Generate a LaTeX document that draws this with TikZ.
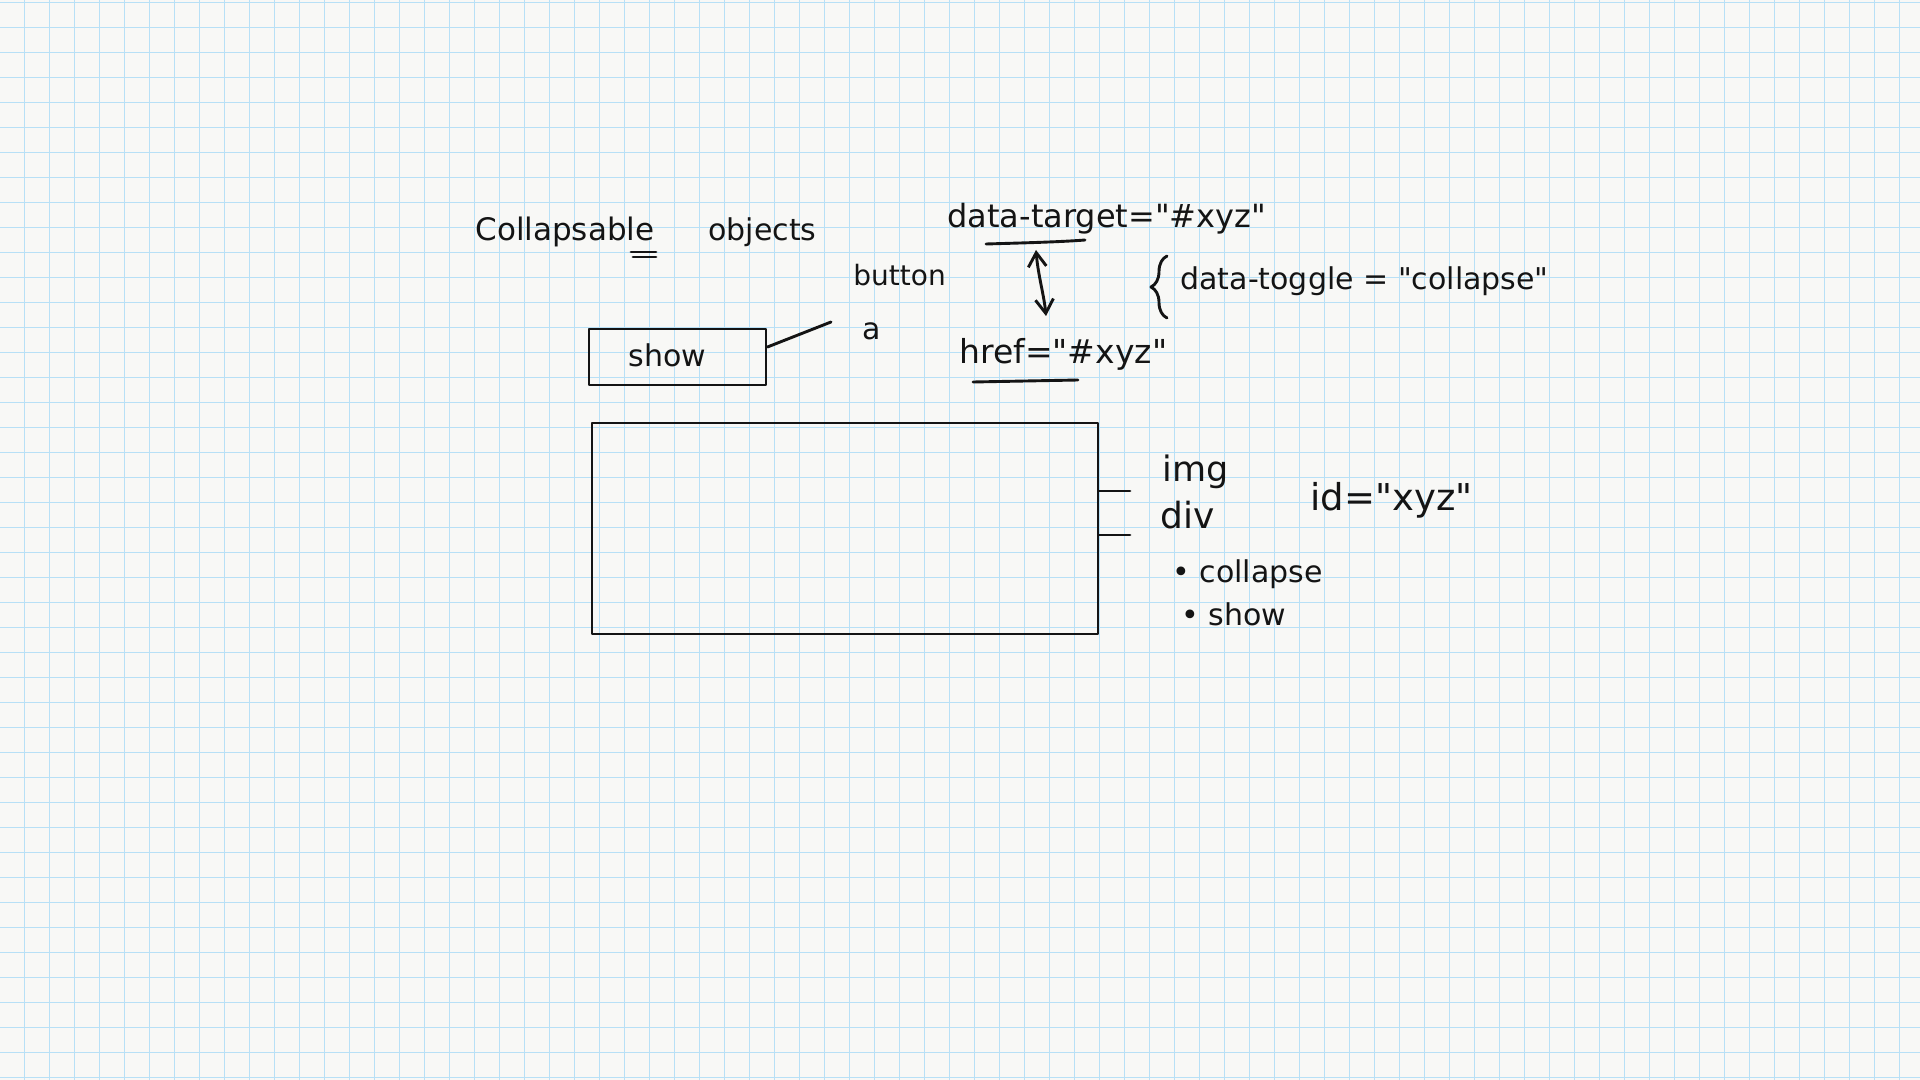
\documentclass[tikz,border=0pt]{standalone}
\usepackage{fontspec}
\setmainfont{DejaVu Sans}[Ligatures=TeXOff]
\usetikzlibrary{arrows.meta,decorations.pathreplacing}
\definecolor{paper}{RGB}{248,248,246}
\definecolor{gridblue}{RGB}{184,224,246}
\definecolor{ink}{RGB}{20,20,20}
\tikzset{
  pen/.style={draw=ink, line width=1.45pt, line cap=round, line join=round},
  hand/.style={font=\fontsize{15}{18}\selectfont, text=ink, inner sep=0pt, anchor=base west},
  boxshape/.style={pen, rectangle, inner sep=0pt},
  barbs/.style={{Straight Barb[length=7pt,width=9pt]}-{Straight Barb[length=7pt,width=9pt]}},
  gridline/.style={draw=gridblue, line width=0.8pt},
}
\begin{document}
\begin{tikzpicture}[x=0.5pt,y=-0.5pt]
\fill[paper] (0,0) rectangle (1920,1080);
\useasboundingbox (0,0) rectangle (1920,1080);
\foreach \i in {0,...,76} \draw[gridline] ({24.3+25*\i},0) -- ({24.3+25*\i},1080);
\foreach \j in {0,...,43} \draw[gridline] (0,{2.5+25*\j}) -- (1920,{2.5+25*\j});

% title
\node[hand, font=\fontsize{15.5}{18}\selectfont] (title1) at (475,241) {Collapsable};
\node[hand] (title2) at (708,241) {objects};
\draw[pen] (631,252) -- (656,252);
\draw[pen] (633,257) -- (656,257);

% button / a
\node[hand, font=\fontsize{14}{16}\selectfont] (button) at (853,286) {button};
\node[hand] (alink) at (862,340) {a};

% show box
\node[boxshape, minimum width=88.5pt, minimum height=28pt] (showbox) at (677.5,357) {};
\node[hand] (showlbl) at (628,366) {show};
\coordinate (cend) at (831,322);
\draw[pen] (showbox.east |- 0,347) -- (cend);

% attributes
\node[hand, font=\fontsize{16}{18}\selectfont] (target) at (947,228) {data-target="\#xyz"};
\draw[pen] (986,244) .. controls (1020,243) and (1060,242) .. (1085,240);
\coordinate (arrtop) at (1036,250);
\coordinate (arrbot) at (1046,316);
\draw[pen, barbs] (arrtop) .. controls (1038,275) and (1044,295) .. (arrbot);
\node[hand, font=\fontsize{16.5}{18}\selectfont] (href) at (959,364) {href="\#xyz"};
\draw[pen] (973,382) -- (1078,380);

\draw[pen, decorate, decoration={brace, amplitude=8pt}] (1167,318) -- (1167,256);
\node[hand] (toggle) at (1180,290) {data-toggle = "collapse"};

% panel
\node[boxshape, minimum width=253pt, minimum height=105.5pt] (panel) at (845,528.5) {};
\coordinate (t1) at (1130,491);
\coordinate (t2) at (1130,535);
\draw[pen] (panel.east |- t1) -- (t1);
\draw[pen] (panel.east |- t2) -- (t2);

\node[hand, font=\fontsize{17.5}{18}\selectfont] (img) at (1162,481) {img};
\node[hand, font=\fontsize{18}{18}\selectfont] (div) at (1160,528) {div};
\node[hand, font=\fontsize{18.5}{18}\selectfont] (idattr) at (1310,510) {id="xyz"};
\node[hand] (cls1) at (1172,582) {• collapse};
\node[hand] (cls2) at (1181,625) {• show};
\end{tikzpicture}
\end{document}
